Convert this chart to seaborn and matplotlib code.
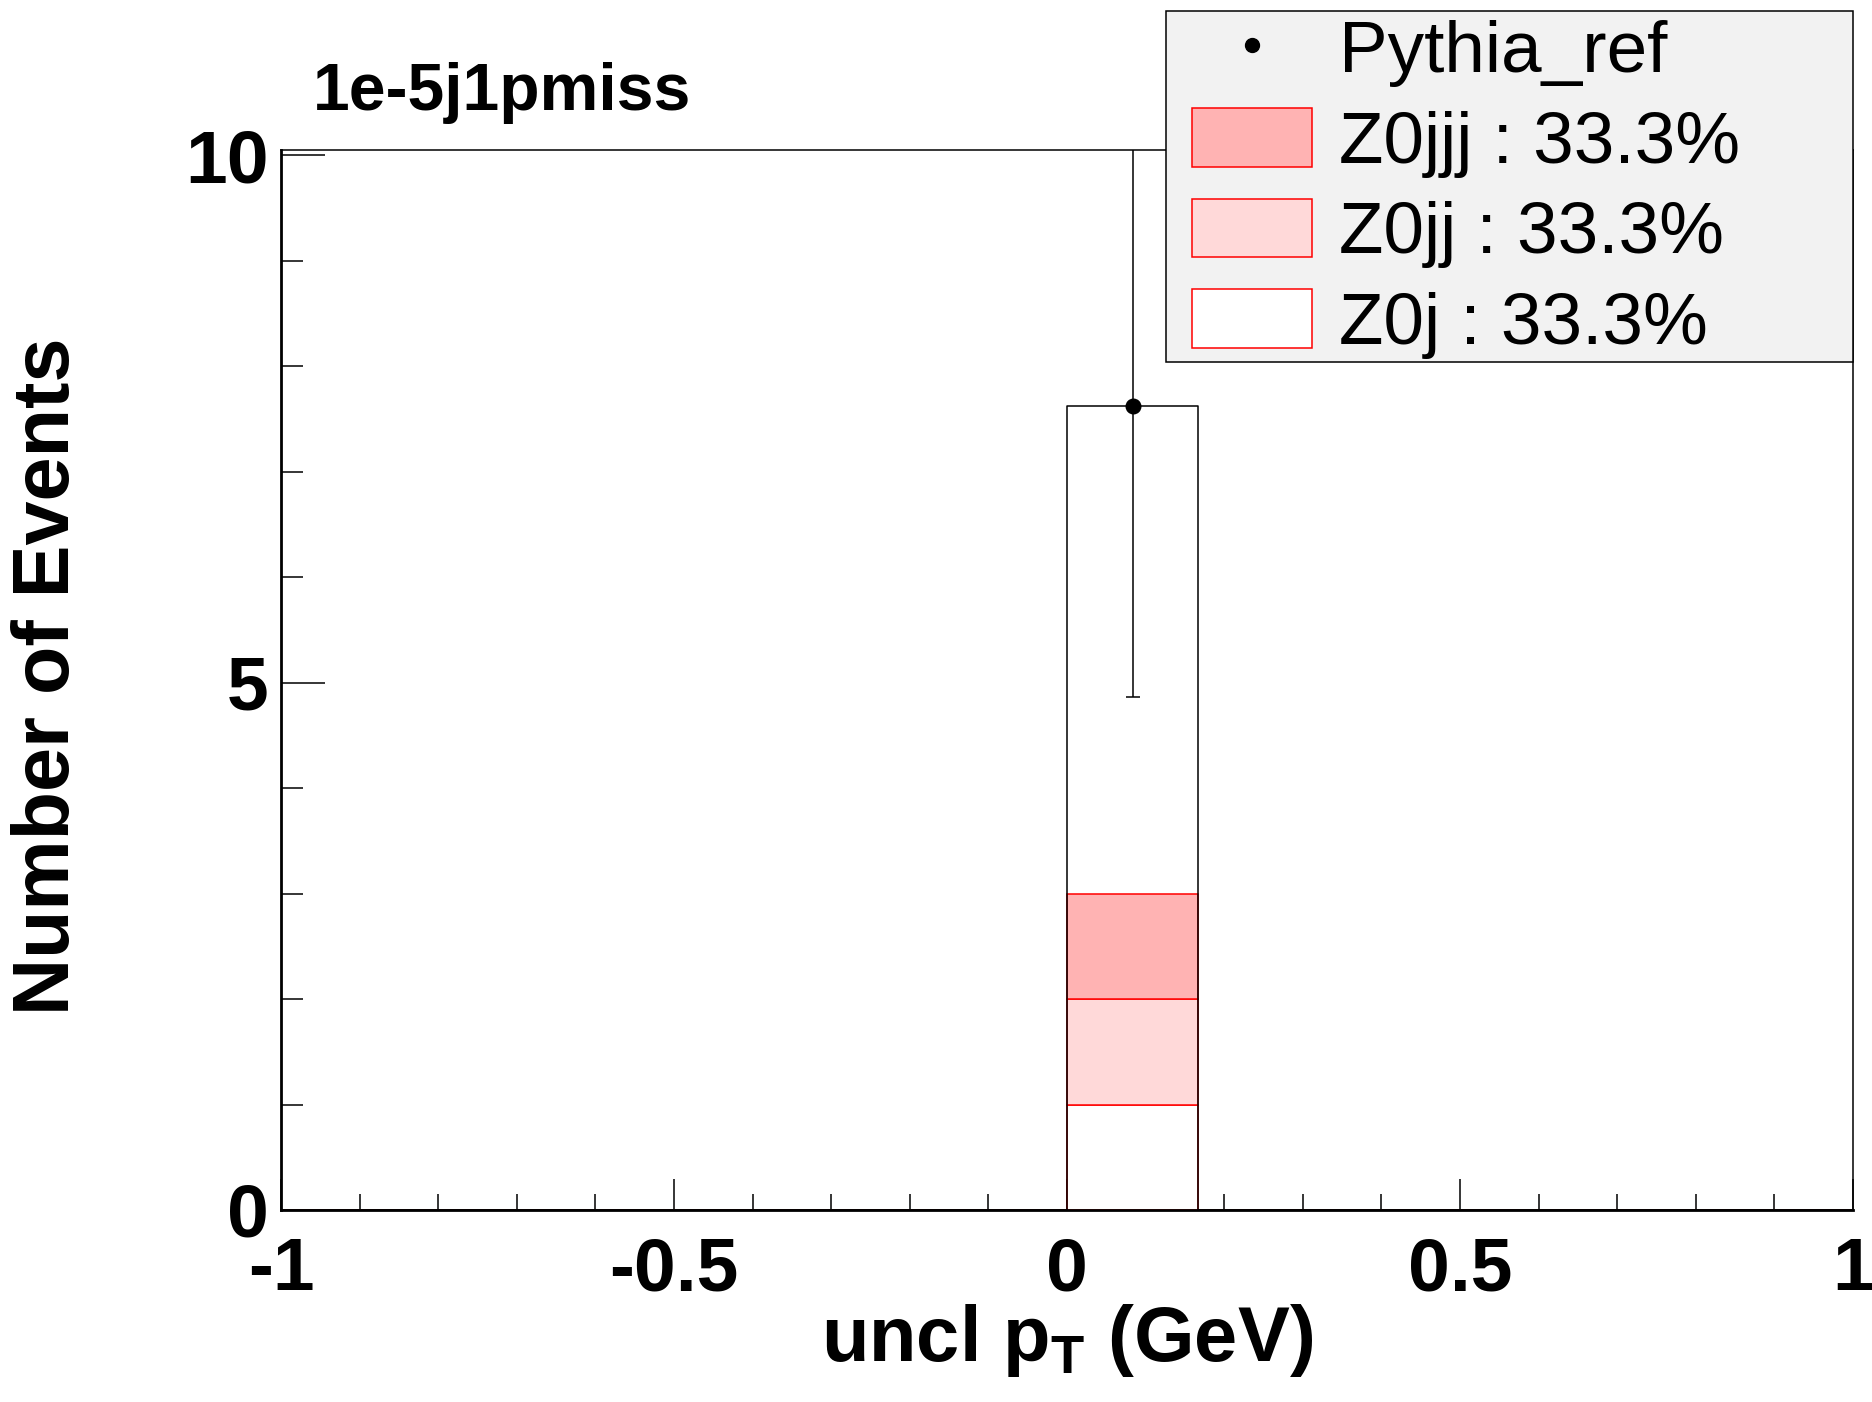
import numpy as np
import pandas as pd
import matplotlib
matplotlib.use("Agg")
import matplotlib.pyplot as plt
import seaborn as sns
from matplotlib.lines import Line2D
from matplotlib.patches import Patch, Rectangle
from matplotlib.ticker import MultipleLocator, FuncFormatter

# binning: 12 bins from -1 to 1
n_bins = 12
x_range = (-1, 1)
edges = np.linspace(x_range[0], x_range[1], n_bins + 1)
bin_centers = (edges[:-1] + edges[1:]) / 2

# stacked MC samples (legend order, top of stack first)
samples = ["Z0jjj", "Z0jj", "Z0j"]
sample_counts = [
    [0, 0, 0, 0, 0, 0, 1.0, 0, 0, 0, 0, 0],
    [0, 0, 0, 0, 0, 0, 1.0, 0, 0, 0, 0, 0],
    [0, 0, 0, 0, 0, 0, 1.0, 0, 0, 0, 0, 0],
]
sample_fill = ["#ffb3b3", "#ffd9d9", "#ffffff"]

# reference data
data_name = "Pythia_ref"
data_counts = [0, 0, 0, 0, 0, 0, 7.62, 0, 0, 0, 0, 0]
data_err = [0, 0, 0, 0, 0, 0, 2.76, 0, 0, 0, 0, 0]

title = "1e-5j1pmiss"

sns.set_style("ticks")
plt.rcParams["font.family"] = ["Liberation Sans", "DejaVu Sans"]
plt.rcParams["font.weight"] = "bold"
plt.rcParams["axes.unicode_minus"] = False
plt.rcParams["mathtext.fontset"] = "custom"
plt.rcParams["mathtext.rm"] = "Liberation Sans:bold"
plt.rcParams["mathtext.it"] = "Liberation Sans:bold"
plt.rcParams["mathtext.bf"] = "Liberation Sans:bold"
for k in ["text.color", "axes.labelcolor", "xtick.color", "ytick.color", "axes.edgecolor"]:
    plt.rcParams[k] = "black"

rows = []
for name, counts in zip(samples, sample_counts):
    for xc, c in zip(bin_centers, counts):
        rows.append({"x": xc, "w": c, "sample": name})
df = pd.DataFrame(rows)

fig = plt.figure(figsize=(18.72, 14.02), dpi=100)
ax = fig.add_axes([0.1501, 0.13695, 0.8398, 0.75606])

sns.histplot(data=df, x="x", weights="w", hue="sample", hue_order=samples,
             palette=dict(zip(samples, sample_fill)), bins=n_bins, binrange=x_range,
             multiple="stack", element="bars", alpha=1, edgecolor="red",
             linewidth=1.1, legend=False, ax=ax)

df_data = pd.DataFrame({"x": bin_centers, "w": data_counts})
sns.histplot(data=df_data, x="x", weights="w", bins=n_bins, binrange=x_range,
             element="step", fill=False, color="black", linewidth=1.1, ax=ax,
             zorder=3)

dc = np.array(data_counts)
de = np.array(data_err)
m = dc > 0
ax.errorbar(bin_centers[m], dc[m], yerr=de[m], fmt="o", color="black",
            markersize=10.5, elinewidth=1.1, capsize=5, capthick=1.1, zorder=4)

ax.set_xlim(-1, 1)
ax.set_ylim(0, 10.05)
ax.xaxis.set_major_locator(MultipleLocator(0.5))
ax.xaxis.set_minor_locator(MultipleLocator(0.1))
ax.yaxis.set_major_locator(MultipleLocator(5))
ax.yaxis.set_minor_locator(MultipleLocator(1))
ax.xaxis.set_major_formatter(FuncFormatter(lambda v, p: "%g" % v))
ax.yaxis.set_major_formatter(FuncFormatter(lambda v, p: "%g" % v))

ax.tick_params(axis="both", which="both", direction="in", width=1.1,
               top=False, right=False, labelsize=54)
ax.tick_params(axis="y", which="major", length=32, pad=9)
ax.tick_params(axis="y", which="minor", length=16)
ax.tick_params(axis="x", which="major", length=22, pad=19)
ax.tick_params(axis="x", which="minor", length=11.5)
for lab in ax.get_yticklabels():
    lab.set_y(lab.get_position()[1])

for s in ["left", "bottom"]:
    ax.spines[s].set_linewidth(2.0)
for s in ["top", "right"]:
    ax.spines[s].set_linewidth(1.1)
ax.grid(False)

ax.set_xlabel(r"uncl p$_{\mathrm{T}}$ (GeV)", fontsize=56, fontweight="bold")
ax.xaxis.set_label_coords(0.5, -0.1425)
ax.xaxis.label.set_va("baseline")
ax.set_ylabel("Number of Events", fontsize=57, fontweight="bold")
ax.yaxis.set_label_coords(-0.148, 0.504)
ax.yaxis.label.set_va("center")
ax.yaxis.label.set_ha("center")

fig.text(313 / 1872, 1 - 110 / 1402, title, fontsize=47.5, fontweight="bold",
         va="baseline", ha="left")

# legend box
fig.add_artist(Rectangle((1166 / 1872, 1 - 362 / 1402), 687 / 1872, 351 / 1402,
                         transform=fig.transFigure, facecolor="#f2f2f2",
                         edgecolor="black", linewidth=1.1, zorder=4))
total = np.sum(sample_counts)
handles = [Line2D([], [], marker="o", color="black", linestyle="none", markersize=10)]
labels = [data_name]
for name, counts, fc in zip(samples, sample_counts, sample_fill):
    handles.append(Patch(facecolor=fc, edgecolor="red", linewidth=1.1))
    labels.append("%s : %.1f%%" % (name, 100 * np.sum(counts) / total))
fig.legend(handles, labels, loc="upper left",
           bbox_to_anchor=(1192 / 1872, 1 - 18 / 1402), frameon=False,
           borderpad=0, borderaxespad=0, handlelength=1.65, handleheight=0.85,
           handletextpad=0.37, labelspacing=0.29,
           prop={"family": "Liberation Sans", "weight": "normal", "size": 52.5})

fig.savefig("out.png", dpi=100)
